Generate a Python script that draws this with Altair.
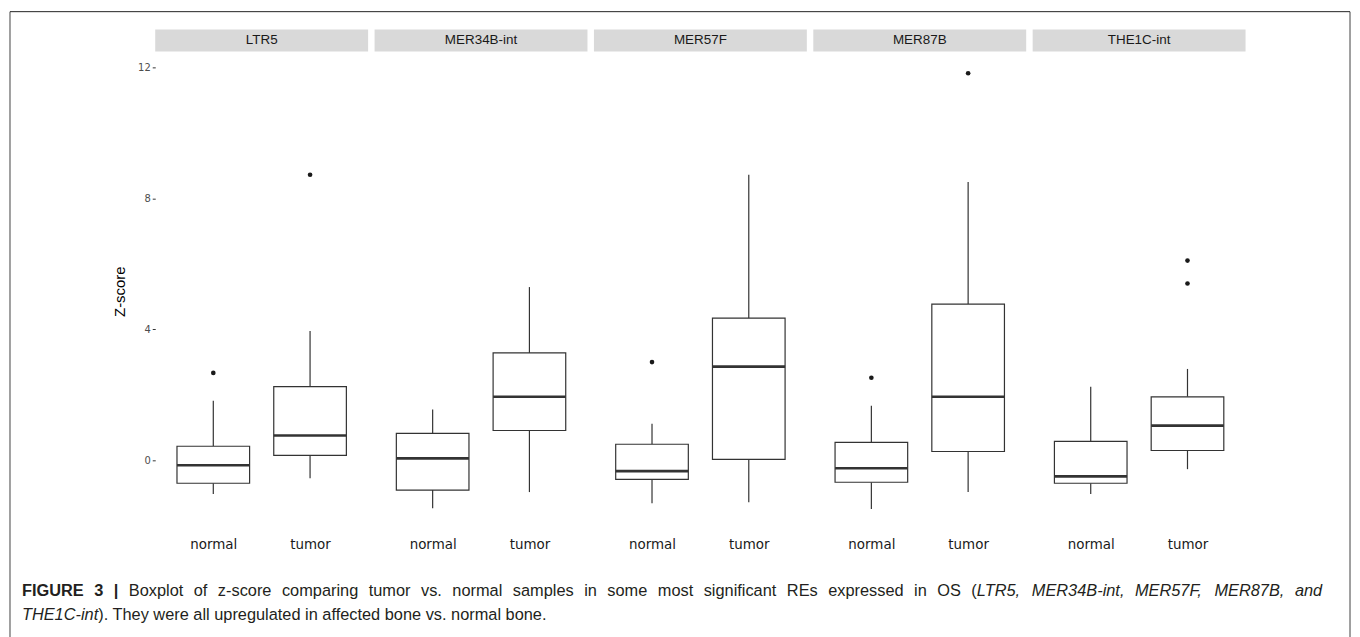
import altair as alt
import pandas as pd

groups = ["LTR5", "MER34B-int", "MER57F", "MER87B", "THE1C-int"]
conds = ["normal", "tumor"]

# box statistics, order: (LTR5 normal, LTR5 tumor, MER34B-int normal, ...)
lower_whisker = [-1.03, -0.55, -1.46, -0.97, -1.31, -1.28, -1.49, -0.97, -1.03, -0.27]
q1 = [-0.70, 0.15, -0.91, 0.91, -0.58, 0.03, -0.67, 0.27, -0.70, 0.30]
median = [-0.15, 0.76, 0.06, 1.94, -0.33, 2.86, -0.24, 1.94, -0.49, 1.06]
q3 = [0.43, 2.25, 0.82, 3.28, 0.49, 4.34, 0.55, 4.77, 0.58, 1.94]
upper_whisker = [1.82, 3.95, 1.55, 5.29, 1.12, 8.72, 1.67, 8.50, 2.25, 2.79]

out_group = ["LTR5", "LTR5", "MER57F", "MER87B", "MER87B", "THE1C-int", "THE1C-int"]
out_cond = ["normal", "tumor", "normal", "normal", "tumor", "tumor", "tumor"]
out_value = [2.67, 8.72, 3.00, 2.52, 11.82, 6.10, 5.40]

y_ticks = [0, 4, 8, 12]

# caption: (text, style, space before)
caption_line1 = [
    ("FIGURE", "bold", False), ("3", "bold", True), ("|", "bold", True),
    ("Boxplot", "normal", True), ("of", "normal", True), ("z-score", "normal", True),
    ("comparing", "normal", True), ("tumor", "normal", True), ("vs.", "normal", True),
    ("normal", "normal", True), ("samples", "normal", True), ("in", "normal", True),
    ("some", "normal", True), ("most", "normal", True), ("significant", "normal", True),
    ("REs", "normal", True), ("expressed", "normal", True), ("in", "normal", True),
    ("OS", "normal", True), ("(", "normal", True), ("LTR5,", "italic", False),
    ("MER34B-int,", "italic", True), ("MER57F,", "italic", True), ("MER87B,", "italic", True),
    ("and", "italic", True),
]
caption_line2 = [
    ("THE1C-int", "italic", False),
    ("). They were all upregulated in affected bone vs. normal bone.", "normal", False),
]

rows = []
i = 0
for g in groups:
    for c in conds:
        rows.append(dict(kind="box", group=g, cond=c, lw=lower_whisker[i], q1=q1[i],
                         med=median[i], q3=q3[i], uw=upper_whisker[i]))
        i += 1
for g, c, v in zip(out_group, out_cond, out_value):
    rows.append(dict(kind="out", group=g, cond=c, out=v))
for g in groups:
    rows.append(dict(kind="strip", group=g))
rows.append(dict(kind="anchor", group=groups[0]))
df = pd.DataFrame(rows)

PW, PH = 214, 482
BOX = 73
LINE = "#333333"

xenc = alt.X("cond:N", sort=conds, scale=alt.Scale(type="point", padding=0.6),
             axis=alt.Axis(title=None, labelAngle=0, ticks=False, domain=False,
                           labelFont="DejaVu Sans", labelFontSize=13.5, labelColor="#1a1a1a",
                           labelPadding=7))
yscale = alt.Scale(domain=[-2.157, 12.485], nice=False, zero=False)
yaxis = alt.Axis(values=y_ticks, title="Z-score", grid=False, domain=False,
                 tickSize=3, tickColor="#333333", labelFont="DejaVu Sans", labelFontSize=10,
                 labelColor="#4d4d4d", labelPadding=2, titleFont="Liberation Sans",
                 titleFontSize=15, titleFontWeight="normal", titleColor="#000000",
                 titlePadding=10)

base = alt.Chart()
box_f = alt.datum.kind == "box"

w_lo = base.mark_rule(color=LINE, strokeWidth=1.2).encode(
    x=xenc, y=alt.Y("lw:Q", scale=yscale, axis=yaxis), y2="q1:Q").transform_filter(box_f)
w_hi = base.mark_rule(color=LINE, strokeWidth=1.2).encode(
    x=xenc, y=alt.Y("q3:Q", scale=yscale, axis=yaxis), y2="uw:Q").transform_filter(box_f)
box = base.mark_bar(size=BOX, fill="white", stroke=LINE, strokeWidth=1.2).encode(
    x=xenc, y=alt.Y("q1:Q", scale=yscale, axis=yaxis), y2="q3:Q").transform_filter(box_f)
med = base.mark_tick(size=BOX, thickness=2.6, color=LINE, opacity=1).encode(
    x=xenc, y=alt.Y("med:Q", scale=yscale, axis=yaxis)).transform_filter(box_f)
pts = base.mark_circle(size=22, color="#1a1a1a", opacity=1).encode(
    x=xenc, y=alt.Y("out:Q", scale=yscale, axis=yaxis)).transform_filter(alt.datum.kind == "out")

strip = base.mark_rect(color="#d9d9d9").encode(
    x=alt.value(0), x2=alt.value(PW), y=alt.value(-22), y2=alt.value(0)
).transform_filter(alt.datum.kind == "strip")
strip_txt = base.mark_text(font="Liberation Sans", fontSize=13.5, color="#1a1a1a").encode(
    x=alt.value(PW / 2), y=alt.value(-11), text="group:N"
).transform_filter(alt.datum.kind == "strip")

anchor = base.transform_filter(alt.datum.kind == "anchor")
border_left = anchor.mark_rule(color="#808080", strokeWidth=1.5).encode(
    x=alt.value(-146), y=alt.value(-40), y2=alt.value(600))
border_right = anchor.mark_rule(color="#808080", strokeWidth=1.5).encode(
    x=alt.value(1201), y=alt.value(-40), y2=alt.value(600))
border_top = anchor.mark_rule(color="#222222", strokeWidth=1).encode(
    x=alt.value(-146), x2=alt.value(1201), y=alt.value(-40))

# --- caption layout (Arial/Liberation Sans metrics, units per 1000 em) ---
REG = {" ": 278, "(": 333, ")": 333, ",": 278, "-": 333, ".": 278, "|": 260}
REG.update({d: 556 for d in "0123456789"})
REG.update(dict(zip("ABCDEFGHIJKLMNOPQRSTUVWXYZ",
                    [667, 667, 722, 722, 667, 611, 778, 722, 278, 500, 667, 556, 833, 722,
                     778, 667, 778, 722, 667, 611, 722, 667, 944, 667, 667, 611])))
REG.update(dict(zip("abcdefghijklmnopqrstuvwxyz",
                    [556, 556, 500, 556, 556, 278, 556, 556, 222, 222, 500, 222, 833, 556,
                     556, 556, 556, 333, 500, 278, 556, 500, 722, 500, 500, 500])))
BOLD = dict(REG)
BOLD.update({"|": 280, "G": 778, "U": 722, "R": 722, "E": 667, "F": 611, "I": 278})


def tw(s, style, size):
    table = BOLD if style == "bold" else REG
    return sum(table.get(ch, 556) for ch in s) * size / 1000.0


LEFT = -134          # caption left edge relative to the first panel
RIGHT = 1173         # justified right edge of line 1
LINE2_END = 394      # natural end of the last line
Y1, Y2 = 542, 567

nat2 = sum(tw(t, s, 1000) for t, s, _ in caption_line2) / 1000.0
cap_size = (LINE2_END - LEFT) / nat2

words_w = sum(tw(t, s, cap_size) for t, s, _ in caption_line1)
n_gaps = sum(1 for _, _, sp in caption_line1 if sp)
gap = (RIGHT - LEFT - words_w) / n_gaps

cap_layers = []
xpos = LEFT
for t, s, sp in caption_line1:
    if sp:
        xpos += gap
    cap_layers.append(
        anchor.mark_text(font="Liberation Sans", fontSize=cap_size,
                         fontWeight="bold" if s == "bold" else "normal",
                         fontStyle="italic" if s == "italic" else "normal",
                         align="left", baseline="middle", color="#231f20", text=t
                         ).encode(x=alt.value(xpos), y=alt.value(Y1)))
    xpos += tw(t, s, cap_size)
xpos = LEFT
for t, s, sp in caption_line2:
    cap_layers.append(
        anchor.mark_text(font="Liberation Sans", fontSize=cap_size,
                         fontStyle="italic" if s == "italic" else "normal",
                         align="left", baseline="middle", color="#231f20", text=t
                         ).encode(x=alt.value(xpos), y=alt.value(Y2)))
    xpos += tw(t, s, cap_size)

layered = alt.layer(strip, strip_txt, w_lo, w_hi, box, med, pts,
                    border_left, border_right, border_top, *cap_layers
                    ).properties(width=PW, height=PH)

chart = layered.facet(
    data=df,
    column=alt.Column("group:N", sort=groups, header=None),
    spacing=6.5,
    bounds="flush",
).properties(padding={"left": 0, "top": 0, "right": 0, "bottom": 0}, background="white"
).configure_view(stroke="transparent")

chart.save("out.html", embed_options={"renderer": "svg", "actions": False})
